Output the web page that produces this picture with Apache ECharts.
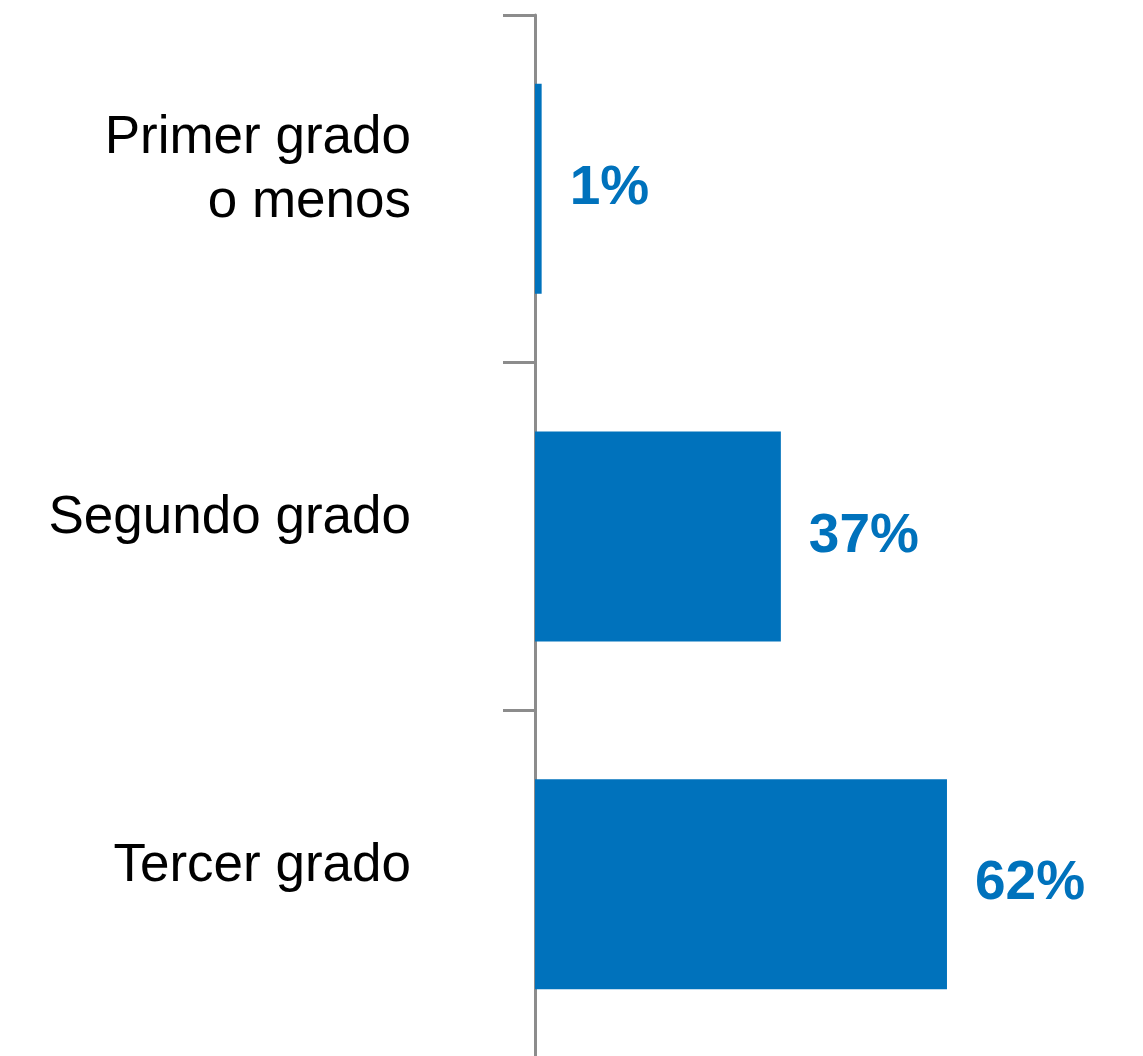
<!DOCTYPE html>
<html>
<head>
<meta charset="utf-8">
<script src="https://cdn.jsdelivr.net/npm/echarts@6/dist/echarts.min.js"></script>
<style>
  html, body { margin: 0; padding: 0; background: #fff; }
  #chart { width: 1143px; height: 1056px; }
</style>
</head>
<body>
<div id="chart"></div>
<script>
  // categorias y valores (%)
  var categories = ['Primer grado\no menos', 'Segundo grado', 'Tercer grado'];
  var values = [1, 37, 62];

  var blue = '#0072bc';
  var gray = '#8c8c8c';
  var labelFont = '"Liberation Sans", Arial, sans-serif';

  var myChart = echarts.init(document.getElementById('chart'));
  myChart.setOption({
    animation: false,
    grid: {
      left: 535,
      right: 0,
      top: 15,
      height: 1043,
      outerBoundsMode: 'none'
    },
    xAxis: {
      type: 'value',
      min: 0,
      max: 91.5,
      show: false
    },
    yAxis: {
      type: 'category',
      inverse: true,
      data: categories,
      axisLine: {
        lineStyle: { color: gray, width: 3 }
      },
      axisTick: {
        show: true,
        length: 32,
        lineStyle: { color: gray, width: 3 }
      },
      axisLabel: {
        margin: 124,
        align: 'right',
        // linea vacia al final para subir el texto sobre el centro
        formatter: function (value) {
          return value.split('\n').map(function (l) {
            return '{t|' + l + '}';
          }).join('\n') + '\n{s| }';
        },
        rich: {
          t: {
            color: '#000',
            fontFamily: labelFont,
            fontSize: 53,
            lineHeight: 64,
            align: 'right'
          },
          s: {
            fontSize: 1,
            lineHeight: 36,
            align: 'right'
          }
        }
      },
      splitLine: { show: false }
    },
    series: [{
      type: 'bar',
      data: values,
      barWidth: 210,
      itemStyle: { color: blue },
      label: {
        show: true,
        position: 'right',
        distance: 28,
        color: blue,
        fontFamily: labelFont,
        fontWeight: 'bold',
        fontSize: 55,
        formatter: function (p) {
          return p.value + '%';
        }
      }
    }]
  });
</script>
</body>
</html>
